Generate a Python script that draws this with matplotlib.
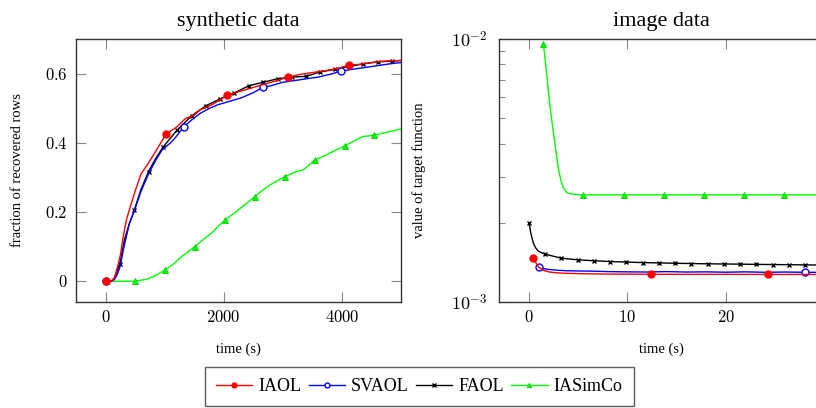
import matplotlib
matplotlib.use("Agg")
import matplotlib.pyplot as plt
from matplotlib.ticker import FixedLocator, FuncFormatter, LogLocator, NullFormatter

plt.rcParams['font.family'] = ['Liberation Serif', 'DejaVu Serif']
plt.rcParams['mathtext.fontset'] = 'cm'

# ---------------- synthetic data (left) ----------------
iaol_t = [0, 100, 150, 200, 250, 300, 350, 400, 500, 600, 700, 800, 900, 1027, 1200, 1350, 1500,
          1600, 1800, 2059, 2200, 2500, 2700, 2900, 3092, 3300, 3500, 3700, 3900, 4113, 4300, 4500,
          4700, 5000]
iaol_y = [0, 0.0, 0.01, 0.04, 0.075, 0.13, 0.175, 0.205, 0.26, 0.31, 0.335, 0.362, 0.39, 0.426,
          0.445, 0.47, 0.48, 0.495, 0.51, 0.537, 0.545, 0.56, 0.57, 0.58, 0.59, 0.598, 0.603, 0.608,
          0.614, 0.624, 0.627, 0.632, 0.636, 0.638]
iaol_marks = [0, 13, 19, 24, 29]

svaol_t = [0, 100, 150, 200, 250, 300, 400, 480, 600, 727, 850, 960, 1100, 1186, 1327, 1450, 1600,
           1751, 1900, 2100, 2300, 2500, 2660, 2800, 3000, 3200, 3400, 3600, 3800, 3990, 4200, 4400,
           4600, 4800, 5000]
svaol_y = [0, 0, 0.005, 0.02, 0.045, 0.09, 0.165, 0.2, 0.26, 0.31, 0.35, 0.38, 0.4, 0.416, 0.447,
           0.465, 0.485, 0.499, 0.51, 0.52, 0.53, 0.545, 0.56, 0.565, 0.575, 0.58, 0.585, 0.59, 0.598,
           0.607, 0.613, 0.618, 0.623, 0.628, 0.632]
svaol_marks = [0, 14, 22, 29]

faol_t = [0, 100, 150, 242, 320, 400, 485, 600, 727, 850, 970, 1212, 1455, 1697, 1940, 2182, 2425,
          2667, 2910, 3152, 3395, 3637, 3880, 4122, 4365, 4607, 4850, 5000]
faol_y = [0, 0.0, 0.01, 0.05, 0.12, 0.165, 0.205, 0.265, 0.317, 0.355, 0.387, 0.437, 0.478, 0.507,
          0.527, 0.544, 0.565, 0.575, 0.585, 0.59, 0.592, 0.605, 0.612, 0.621, 0.628, 0.634, 0.636,
          0.638]
faol_marks = [0, 3, 6, 8, 10, 11, 12, 13, 14, 15, 16, 17, 18, 19, 20, 21, 22, 23, 24, 25, 26]

iasim_t = [0, 250, 502, 700, 850, 1010, 1150, 1300, 1512, 1650, 1800, 1900, 2020, 2200, 2350, 2522,
           2650, 2800, 3030, 3200, 3350, 3538, 3700, 3850, 4045, 4200, 4350, 4547, 4700, 5000]
iasim_y = [0, 0, 0, 0.006, 0.017, 0.033, 0.05, 0.073, 0.1, 0.12, 0.14, 0.158, 0.176, 0.2, 0.22,
           0.244, 0.262, 0.28, 0.302, 0.315, 0.322, 0.35, 0.362, 0.375, 0.391, 0.405, 0.418, 0.422,
           0.428, 0.44]
iasim_marks = [0, 2, 5, 8, 12, 15, 18, 21, 24, 27]

# ---------------- image data (right) ----------------
r_iaol_t = [0.47, 0.8, 1.04, 1.5, 2.1, 3, 4, 6, 8, 12.4, 16, 20, 24.3, 28, 31]
r_iaol_y = [0.001466, 0.0014, 0.001355, 0.00132, 0.0013, 0.00129, 0.001285, 0.00128, 0.001277,
            0.001275, 0.001274, 0.001274, 0.001273, 0.001273, 0.001273]
r_iaol_marks = [0, 9, 12]

r_svaol_t = [1.1, 1.5, 2, 3, 3.8, 5, 6.5, 8, 10, 12, 14, 16, 18, 20, 22, 24, 26, 28.1, 31]
r_svaol_y = [0.00136, 0.00134, 0.00133, 0.00132, 0.001315, 0.001312, 0.00131, 0.001305, 0.001302,
             0.0013, 0.001305, 0.0013, 0.001302, 0.001298, 0.001302, 0.001297, 0.0013, 0.001297,
             0.001296]
r_svaol_marks = [0, 17]

r_faol_t = [0.07, 0.2, 0.35, 0.5, 0.75, 1.0, 1.3, 1.69, 3.34, 4.99, 6.64, 8.29, 9.94, 11.59, 13.24,
            14.89, 16.54, 18.19, 19.84, 21.49, 23.14, 24.79, 26.44, 28.09, 29.74, 31.0]
r_faol_y = [0.002, 0.00185, 0.00175, 0.00167, 0.0016, 0.00156, 0.00154, 0.00152, 0.001467,
            0.001447, 0.001435, 0.001425, 0.001418, 0.001412, 0.001408, 0.001404, 0.0014, 0.001397,
            0.001395, 0.001393, 0.00139, 0.001388, 0.001386, 0.001384, 0.001382, 0.001381]
r_faol_marks = [0] + list(range(7, 25))

r_iasim_t = [1.5, 1.65, 1.8, 1.95, 2.1, 2.3, 2.53, 2.8, 3.04, 3.3, 3.55, 3.9, 4.2, 5.0, 5.57, 9.65,
             13.73, 17.81, 21.89, 25.97, 30.05, 31.0]
r_iasim_y = [0.0096, 0.0086, 0.0076, 0.0067, 0.0059, 0.0051, 0.0044, 0.0037, 0.0032, 0.00289,
             0.00271, 0.0026, 0.00258, 0.002562, 0.002555, 0.002555, 0.002555, 0.002555, 0.002555,
             0.002555, 0.002555, 0.002555]
r_iasim_marks = [0, 14, 15, 16, 17, 18, 19, 20]

left_xticks = [0, 2000, 4000]
left_yticks = [0, 0.2, 0.4, 0.6]
right_xticks = [0, 10, 20]

labels = ['IAOL', 'SVAOL', 'FAOL', 'IASimCo']
colors = ['#ff0000', '#0000ff', '#000000', '#00ff00']

fig = plt.figure(figsize=(8.16, 4.08), dpi=100)
W, H = 816.0, 408.0
axL = fig.add_axes([76 / W, (H - 302) / H, 325 / W, 263 / H])
axR = fig.add_axes([499 / W, (H - 302) / H, 325 / W, 263 / H])


def plot_series(ax, t, y, marks, c, kind, label=None):
    kw = dict(color=c, lw=1.0, markevery=marks, label=label)
    if kind == 'o_fill':
        kw.update(marker='o', ms=5, mfc=c, mec=c)
    elif kind == 'o_open':
        kw.update(marker='o', ms=5, mfc='white', mec=c, mew=1.0)
    elif kind == 'x':
        kw.update(marker='x', ms=3.5, mec=c, mew=1.0)
    else:
        kw.update(marker='^', ms=4.5, mfc=c, mec='#00cc00', mew=0.6)
    ax.plot(t, y, **kw)


kinds = ['o_fill', 'o_open', 'x', 'tri']
left_data = [(iaol_t, iaol_y, iaol_marks), (svaol_t, svaol_y, svaol_marks),
             (faol_t, faol_y, faol_marks), (iasim_t, iasim_y, iasim_marks)]
right_data = [(r_iaol_t, r_iaol_y, r_iaol_marks), (r_svaol_t, r_svaol_y, r_svaol_marks),
              (r_faol_t, r_faol_y, r_faol_marks), (r_iasim_t, r_iasim_y, r_iasim_marks)]

order = [3, 2, 1, 0]
for i in order:
    t, y, m = left_data[i]
    plot_series(axL, t, y, m, colors[i], kinds[i], label=labels[i])
for i in order:
    t, y, m = right_data[i]
    plot_series(axR, t, y, m, colors[i], kinds[i])

tick_fs = 12
# left axes
axL.set_xlim(-500, 5000)
axL.set_ylim(-0.06, 0.7)
axL.xaxis.set_major_locator(FixedLocator(left_xticks))
axL.yaxis.set_major_locator(FixedLocator(left_yticks))
axL.xaxis.set_major_formatter(FuncFormatter(lambda v, p: r'$%d$' % v))
axL.yaxis.set_major_formatter(FuncFormatter(lambda v, p: r'$0$' if v == 0 else r'$%.1f$' % v))
axL.set_title('synthetic data', fontsize=16, pad=9)
axL.set_xlabel('time (s)', fontsize=10.5, labelpad=12)
axL.set_ylabel('fraction of recovered rows', fontsize=10.5, labelpad=15)

# right axes
axR.set_yscale('log')
axR.set_xlim(-3, 30)
axR.set_ylim(1e-3, 1e-2)
axR.xaxis.set_major_locator(FixedLocator(right_xticks))
axR.xaxis.set_major_formatter(FuncFormatter(lambda v, p: r'$%d$' % v))
axR.yaxis.set_major_locator(FixedLocator([1e-3, 1e-2]))
axR.yaxis.set_major_formatter(FuncFormatter(lambda v, p: r'$10^{-3}$' if v < 5e-3 else r'$10^{-2}$'))
axR.yaxis.set_minor_locator(LogLocator(base=10, subs=range(2, 10)))
axR.yaxis.set_minor_formatter(NullFormatter())
axR.set_title('image data', fontsize=16, pad=9)
axR.set_xlabel('time (s)', fontsize=10.5, labelpad=12)
axR.set_ylabel('value of target function', fontsize=10.5, labelpad=18)

for ax in (axL, axR):
    ax.tick_params(which='major', direction='in', length=7, width=0.8, color='#888888',
                   top=True, right=True, labelsize=tick_fs, pad=6)
    ax.tick_params(which='minor', direction='in', length=4.5, width=0.8, color='#888888',
                   top=False, right=True)
    ax.tick_params(axis='x', which='minor', bottom=False, top=False)
    for s in ax.spines.values():
        s.set_color('#333333')
        s.set_linewidth(1.0)
axR.tick_params(axis='y', which='major', labelsize=13, pad=8)

handles, labs = axL.get_legend_handles_labels()
hmap = dict(zip(labs, handles))
leg = fig.legend([hmap[l] for l in labels], labels, loc='center', bbox_to_anchor=(0.514, 0.053),
                 ncol=4, frameon=True, fancybox=False, edgecolor='#333333', fontsize=13,
                 handlelength=2.0, handletextpad=0.35, columnspacing=0.4, borderpad=0.6,
                 markerscale=0.7, borderaxespad=0)
leg.get_frame().set_linewidth(1.0)

fig.savefig('out.png', dpi=100)
